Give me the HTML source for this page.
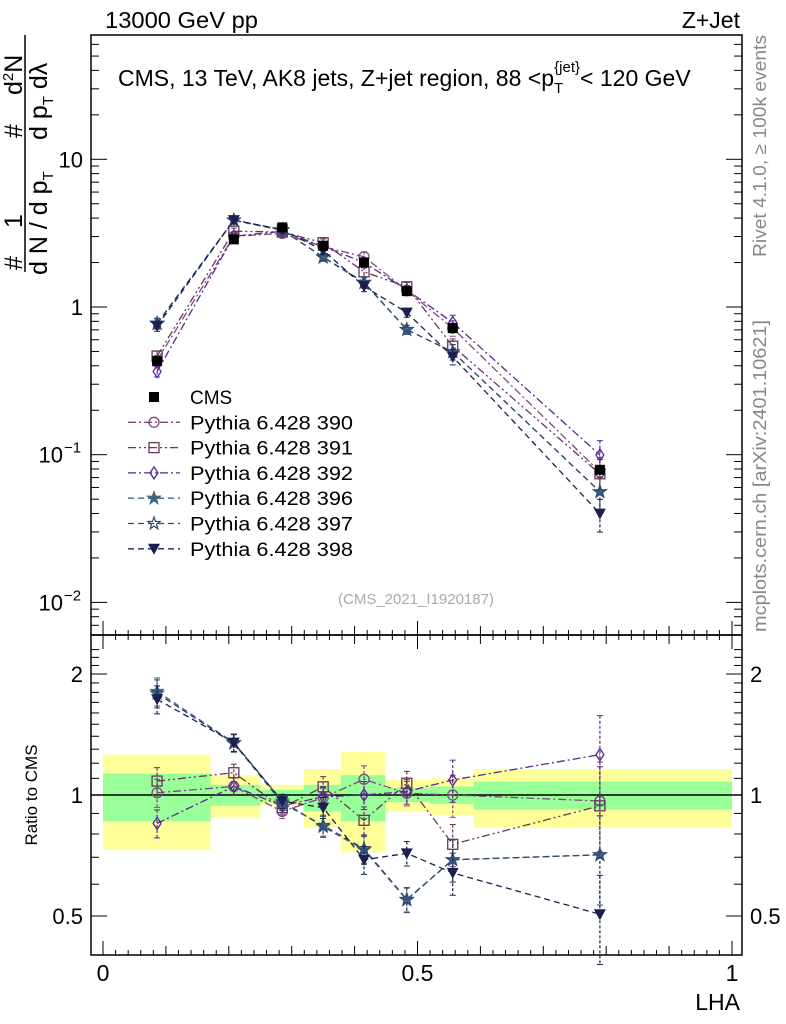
<!DOCTYPE html>
<html><head><meta charset="utf-8">
<style>
html,body{margin:0;padding:0;background:#fff;}
svg{display:block;font-family:"Liberation Sans",sans-serif;}
</style></head>
<body>
<svg id="chart" width="786" height="1024" viewBox="0 0 786 1024">
<text x="105" y="28" font-size="23" textLength="153" lengthAdjust="spacingAndGlyphs">13000 GeV pp</text>
<text x="740" y="28" font-size="23" text-anchor="end">Z+Jet</text>
<text x="118" y="86" font-size="23">CMS, 13 TeV, AK8 jets, Z+jet region, 88 &lt;p<tspan font-size="15" dy="7">T</tspan><tspan font-size="15" dy="-21" dx="-9">{jet}</tspan><tspan dy="14">&lt; 120 GeV</tspan></text>
<text transform="translate(766,632) rotate(-90)" font-size="18" fill="#888" textLength="312" lengthAdjust="spacingAndGlyphs">mcplots.cern.ch [arXiv:2401.10621]</text>
<text transform="translate(766,257) rotate(-90)" font-size="18" fill="#888" textLength="222" lengthAdjust="spacingAndGlyphs">Rivet 4.1.0, ≥ 100k events</text>
<text x="416" y="604" font-size="15" fill="#aaa" text-anchor="middle">(CMS_2021_I1920187)</text>
<g font-size="25">
<text transform="translate(22,270) rotate(-90)">#</text>
<text transform="translate(22,228) rotate(-90)">1</text>
<text transform="translate(22,138) rotate(-90)">#</text>
<text transform="translate(22,95) rotate(-90)">d<tspan font-size="15" dy="-9">2</tspan><tspan dy="9">N</tspan></text>
<line x1="25" y1="272" x2="25" y2="35" stroke="#000" stroke-width="1.5"/>
<text transform="translate(47,275) rotate(-90)">d N / d p<tspan font-size="15" dy="6">T</tspan></text>
<text transform="translate(47,140) rotate(-90)">d p<tspan font-size="15" dy="6">T</tspan><tspan dy="-6"> dλ</tspan></text>
</g>
<text transform="translate(37,795) rotate(-90)" font-size="17" text-anchor="middle">Ratio to CMS</text>
<text x="740" y="1010" font-size="23" text-anchor="end">LHA</text>
<g id="bands"></g><g id="axes"></g><g id="series"></g><g id="legend"></g>
</svg>
<script>
const xCenters=[0.086,0.208,0.285,0.35,0.415,0.483,0.556,0.79];
const binEdges=[0,0.171,0.25,0.319,0.378,0.449,0.519,0.589,1.0];
const cmsValues=[0.43,2.87,3.46,2.6,2.0,1.28,0.72,0.079];
const yellowHi=[1.26,1.12,1.06,1.16,1.28,1.09,1.10,1.16];
const yellowLo=[0.73,0.88,0.94,0.83,0.72,0.91,0.89,0.83];
const greenHi=[1.13,1.06,1.03,1.06,1.12,1.04,1.05,1.08];
const greenLo=[0.86,0.94,0.96,0.91,0.86,0.96,0.95,0.92];
const ratio390=[1.013,1.05,0.91,0.985,1.094,1.01,1.0,0.966];
const ratio391=[1.083,1.136,0.93,1.048,0.865,1.07,0.754,0.94];
const ratio392=[0.85,1.05,0.94,0.99,1.0,1.02,1.09,1.26];
const ratio396=[1.81,1.35,0.965,0.834,0.73,0.548,0.69,0.71];
const ratio397=[1.79,1.345,0.955,0.84,0.735,0.55,0.69,0.71];
const ratio398=[1.73,1.35,0.965,0.93,0.69,0.716,0.64,0.505];
const relErr=[0.08,0.05,0.04,0.06,0.08,0.07,0.12,0.25];
const seriesNames=["Pythia 6.428 390","Pythia 6.428 391","Pythia 6.428 392","Pythia 6.428 396","Pythia 6.428 397","Pythia 6.428 398"];

const NS="http://www.w3.org/2000/svg";
const L=91,R=742,T=35,MB=635,RB=955;
const X=v=>103+v*629;
const YM=v=>307-147.7*Math.log10(v);
const YR=v=>795-402*Math.log10(v);
function mk(tag,attrs,parent){const e=document.createElementNS(NS,tag);for(const k in attrs)e.setAttribute(k,attrs[k]);parent.appendChild(e);return e;}
const bands=document.getElementById('bands'),axes=document.getElementById('axes'),ser=document.getElementById('series'),leg=document.getElementById('legend');

for(let i=0;i<xCenters.length;i++){
  const y=mk('rect',{x:X(binEdges[i]),y:YR(yellowHi[i]),width:X(binEdges[i+1])-X(binEdges[i]),height:YR(yellowLo[i])-YR(yellowHi[i]),fill:'#ffff99'},bands);
  
  
  const g=mk('rect',{x:X(binEdges[i]),y:YR(greenHi[i]),width:X(binEdges[i+1])-X(binEdges[i]),height:YR(greenLo[i])-YR(greenHi[i]),fill:'#99ff99'},bands);
  
  
}
mk('line',{x1:L,x2:R,y1:YR(1),y2:YR(1),stroke:'#000','stroke-width':1.5},bands);

mk('rect',{x:L,y:T,width:R-L,height:MB-T,fill:'none',stroke:'#000','stroke-width':1.5},axes);
mk('rect',{x:L,y:MB,width:R-L,height:RB-MB,fill:'none',stroke:'#000','stroke-width':1.5},axes);
for(let k=0;k<=50;k++){const v=k*0.02;const x=X(v);if(x>R)break;
  const len=k%25===0?14:(k%5===0?9:5);
  mk('line',{x1:x,x2:x,y1:RB,y2:RB-len,stroke:'#000'},axes);
  mk('line',{x1:x,x2:x,y1:MB,y2:MB-len,stroke:'#000'},axes);
  mk('line',{x1:x,x2:x,y1:MB,y2:MB+len,stroke:'#000'},axes);
}
[[0,'0'],[0.5,'0.5'],[1,'1']].forEach(([v,t])=>{const e=mk('text',{x:X(v),y:981,'font-size':23,'text-anchor':'middle'},axes);e.textContent=t;
  
  });
for(let d=-3;d<=1;d++){for(let m=1;m<=9;m++){const v=m*Math.pow(10,d);const y=YM(v);if(y<T||y>MB)continue;
  const len=m===1?16:8;
  mk('line',{x1:L,x2:L+len,y1:y,y2:y,stroke:'#000'},axes);mk('line',{x1:R,x2:R-len,y1:y,y2:y,stroke:'#000'},axes);}}
[[10,'10'],[1,'1']].forEach(([v,t])=>{const e=mk('text',{x:83,y:YM(v)+8,'font-size':22,'text-anchor':'end'},axes);e.textContent=t;
  
  });
[[0.1,'−1'],[0.01,'−2']].forEach(([v,t])=>{const e=mk('text',{x:63,y:YM(v)+8,'font-size':22,'text-anchor':'end'},axes);e.textContent='10';
  
  
  const s=mk('text',{x:64,y:YM(v)-2,'font-size':15},axes);s.textContent=t;});
for(let v=0.5;v<=2.31;v+=0.1){const y=YR(v);const major=Math.abs(v-0.5)<1e-6||Math.abs(v-1)<1e-6||Math.abs(v-2)<1e-6;
  const len=major?16:8;
  mk('line',{x1:L,x2:L+len,y1:y,y2:y,stroke:'#000'},axes);mk('line',{x1:R,x2:R-len,y1:y,y2:y,stroke:'#000'},axes);}
[[2,'2'],[1,'1'],[0.5,'0.5']].forEach(([v,t])=>{
  const e=mk('text',{x:83,y:YR(v)+8,'font-size':22,'text-anchor':'end'},axes);e.textContent=t;
  
  
  const e2=mk('text',{x:750,y:YR(v)+8,'font-size':22},axes);e2.textContent=t;
  
  });

function marker(type,x,y,color,parent){
  const s=5;
  if(type==='sq')return mk('rect',{x:x-s,y:y-s,width:2*s,height:2*s,fill:color},parent);
  if(type==='osq')return mk('rect',{x:x-s,y:y-s,width:2*s,height:2*s,fill:'none',stroke:color,'stroke-width':1.3},parent);
  if(type==='circ')return mk('circle',{cx:x,cy:y,r:s,fill:'none',stroke:color,'stroke-width':1.3},parent);
  if(type==='diam')return mk('path',{d:`M${x} ${y-6}L${x+4} ${y}L${x} ${y+6}L${x-4} ${y}Z`,fill:'none',stroke:color,'stroke-width':1.3},parent);
  if(type==='star'||type==='ostar'){let p='';for(let i=0;i<10;i++){const a=-Math.PI/2+i*Math.PI/5;const r=i%2?2.6:6.5;p+=(i?'L':'M')+(x+r*Math.cos(a)).toFixed(1)+' '+(y+r*Math.sin(a)).toFixed(1);}
    return mk('path',{d:p+'Z',fill:type==='star'?color:'none',stroke:color,'stroke-width':1.2},parent);}
  if(type==='tri')return mk('path',{d:`M${x-6} ${y-5}L${x+6} ${y-5}L${x} ${y+6}Z`,fill:color},parent);
}
const series=[
 {r:ratio390,c:'#7b4a7b',m:'circ',d:'8,3,2,3'},
 {r:ratio391,c:'#6a3458',m:'osq',d:'8,3,2,3,2,3'},
 {r:ratio392,c:'#5a2592',m:'diam',d:'8,3,2,3'},
 {r:ratio396,c:'#3f6580',m:'star',d:'6,4'},
 {r:ratio397,c:'#2e4a6e',m:'ostar',d:'6,4'},
 {r:ratio398,c:'#1c2050',m:'tri',d:'6,4'}];
series.forEach((s,si)=>{
  const g=mk('g',{},ser);
  
  
  const pm=xCenters.map((x,i)=>[X(x),YM(cmsValues[i]*s.r[i])]);
  const pr=xCenters.map((x,i)=>[X(x),YR(s.r[i])]);
  [pm,pr].forEach((pts,pi)=>{
    mk('polyline',{points:pts.map(p=>p.join(',')).join(' '),fill:'none',stroke:s.c,'stroke-width':1.3,'stroke-dasharray':s.d},g);
    pts.forEach((p,i)=>{const v=pi?s.r[i]:cmsValues[i]*s.r[i];const f=pi?YR:YM;
      const y1=f(v*(1+relErr[i])),y2=f(v*(1-relErr[i]));
      mk('line',{x1:p[0],x2:p[0],y1:y1,y2:y2,stroke:s.c,'stroke-width':1.2,'stroke-dasharray':'3,2'},g);
      mk('line',{x1:p[0]-3,x2:p[0]+3,y1:y1,y2:y1,stroke:s.c},g);
      mk('line',{x1:p[0]-3,x2:p[0]+3,y1:y2,y2:y2,stroke:s.c},g);
      const mm=marker(s.m,p[0],p[1],s.c,g);
      
      });
  });
});
const cg=mk('g',{},ser);


xCenters.forEach((x,i)=>{const m=marker('sq',X(x),YM(cmsValues[i]),'#000',cg);
  
  });

const ly0=397,ldy=25.3;
const e0=marker('sq',154,ly0,'#000',leg);


const t0=mk('text',{x:190,y:ly0+7,'font-size':19},leg);t0.textContent='CMS';


series.forEach((s,i)=>{const y=ly0+ldy*(i+1);
  mk('line',{x1:128,x2:180,y1:y,y2:y,stroke:s.c,'stroke-width':1.3,'stroke-dasharray':s.d},leg);
  marker(s.m,154,y,s.c,leg);
  const t=mk('text',{x:190,y:y+7,'font-size':19,textLength:163,lengthAdjust:'spacingAndGlyphs'},leg);t.textContent=seriesNames[i];
  
  });
</script>
</body></html>
